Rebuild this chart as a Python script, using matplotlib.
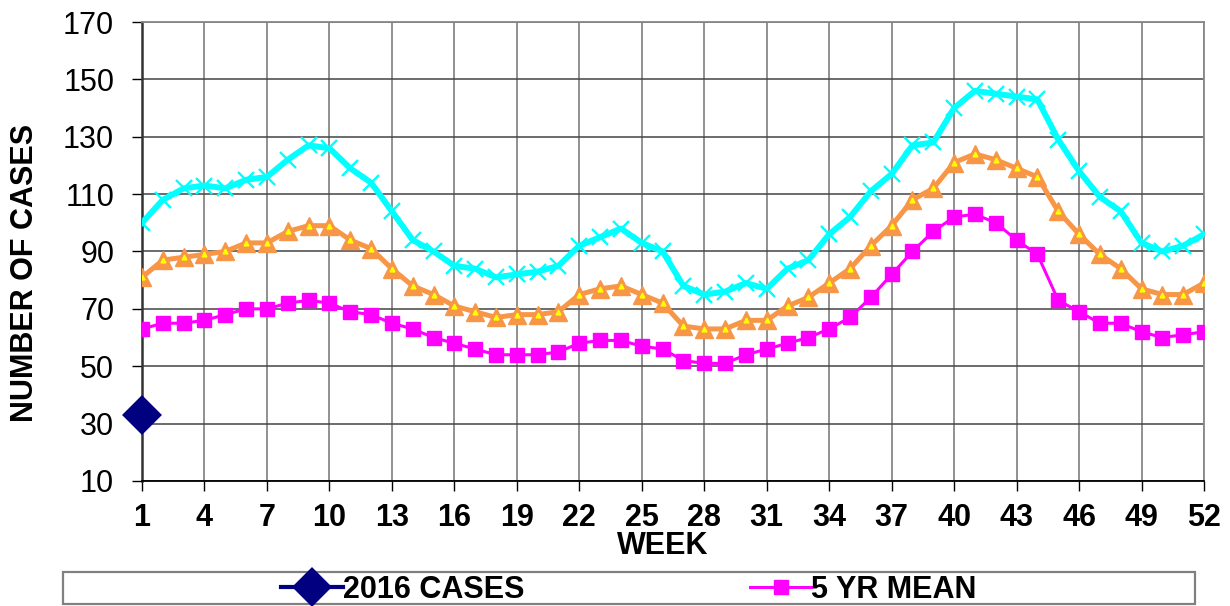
import matplotlib
matplotlib.use("Agg")
import matplotlib.pyplot as plt
from matplotlib.patches import Rectangle

plt.rcParams['font.family'] = ['Liberation Sans', 'DejaVu Sans']

# ---------------- data ----------------
weeks = list(range(1, 53))
weeks_2016 = [1]
cases_2016 = [33]
mean_5yr = [63, 65, 65, 66, 68, 70, 70, 72, 73, 72, 69, 68, 65,
            63, 60, 58, 56, 54, 54, 54, 55, 58, 59, 59, 57, 56, 52,
            51, 51, 54, 56, 58, 60, 63, 67, 74, 82, 90, 97,
            102, 103, 100, 94, 89, 73, 69, 65, 65, 62, 60, 61, 62]
mean_plus_1sd = [81, 87, 88, 89, 90, 93, 93, 97, 99, 99, 94, 91, 84,
                 78, 75, 71, 69, 67, 68, 68, 69, 75, 77, 78, 75, 72, 64,
                 63, 63, 66, 66, 71, 74, 79, 84, 92, 99, 108, 112,
                 121, 124, 122, 119, 116, 104, 96, 89, 84, 77, 75, 75, 79]
mean_plus_2sd = [100, 108, 112, 113, 112, 115, 116, 122, 127, 126, 119, 114, 104,
                 94, 90, 85, 84, 81, 82, 83, 85, 92, 95, 98, 93, 90, 78,
                 75, 76, 79, 77, 84, 87, 96, 102, 111, 117, 127, 128,
                 140, 146, 145, 144, 143, 129, 118, 109, 104, 93, 90, 92, 96]
x_ticks = list(range(1, 53, 3))
y_ticks = list(range(10, 171, 20))
x_label = "WEEK"
y_label = "NUMBER OF CASES"
legend_labels = ["2016 CASES", "5 YR MEAN"]

# ---------------- figure ----------------
W, H = 1230, 606
fig = plt.figure(figsize=(W / 100, H / 100), dpi=100)
ax = fig.add_axes([142 / W, 1 - 481 / H, (1204 - 142) / W, (481 - 22) / H])

ax.plot(weeks, mean_plus_2sd, color='#00FFFF', lw=4.3, marker='x', ms=11,
        mew=1.7, mec='#00FFFF', zorder=3, solid_joinstyle='round')
ax.plot(weeks, mean_plus_1sd, color='#F79646', lw=3.6, marker='^', ms=13,
        mfc='#F79646', mec='#F79646', zorder=4, solid_joinstyle='round')
ax.plot(weeks, mean_plus_1sd, ls='none', marker='^', ms=3.5,
        mfc='#FFFF00', mec='#FFFF00', zorder=5)
l_mean, = ax.plot(weeks, mean_5yr, color='#FF00FF', lw=2.2, marker='s', ms=10.5,
                  mfc='#FF00FF', mec='#FF00FF', zorder=6)
l_2016, = ax.plot(weeks_2016, cases_2016, color='#000080', lw=3, marker='D', ms=17.5,
                  mfc='#000080', mec='#000080', mew=3, zorder=7, clip_on=False)

ax.set_xlim(1, 52)
ax.set_ylim(10, 170)
ax.set_xticks(x_ticks)
ax.set_yticks(y_ticks)
ax.set_xticklabels([str(t) for t in x_ticks], fontsize=22, fontweight='bold')
ax.set_yticklabels([str(t) for t in y_ticks], fontsize=22)
ax.tick_params(axis='x', direction='out', length=7, width=1, color='#000000', pad=9)
ax.tick_params(axis='y', direction='out', length=7, width=1, color='#000000', pad=13)

ax.grid(axis='x', color='#888888', lw=1.3)
ax.grid(axis='y', color='#444444', lw=1.1)
ax.set_axisbelow(True)
for s in ['top', 'right']:
    ax.spines[s].set_color('#888888')
    ax.spines[s].set_linewidth(1.3)
ax.spines['left'].set_color('#333333')
ax.spines['left'].set_linewidth(1.8)
ax.spines['bottom'].set_color('#000000')
ax.spines['bottom'].set_linewidth(1.3)

fig.text(663 / W, 1 - 546 / H, x_label, fontsize=22, fontweight='bold',
         ha='center', va='center')
fig.text(25 / W, 1 - 273 / H, y_label, fontsize=22, fontweight='bold',
         ha='center', va='center', rotation=90)

# legend
fig.add_artist(Rectangle((63 / W, 1 - 604 / H), (1195 - 63) / W, 32 / H,
                         transform=fig.transFigure, fill=False,
                         edgecolor='#808080', lw=1.6))
leg = fig.legend([l_2016, l_mean], legend_labels, loc='center',
                 bbox_to_anchor=(629 / W, 1 - 590 / H), ncol=2, frameon=False,
                 prop={'size': 22, 'weight': 'bold'}, handlelength=2.0,
                 handletextpad=0.0, columnspacing=7.4, borderaxespad=0)

fig.savefig('out.png', dpi=100, facecolor='white')
